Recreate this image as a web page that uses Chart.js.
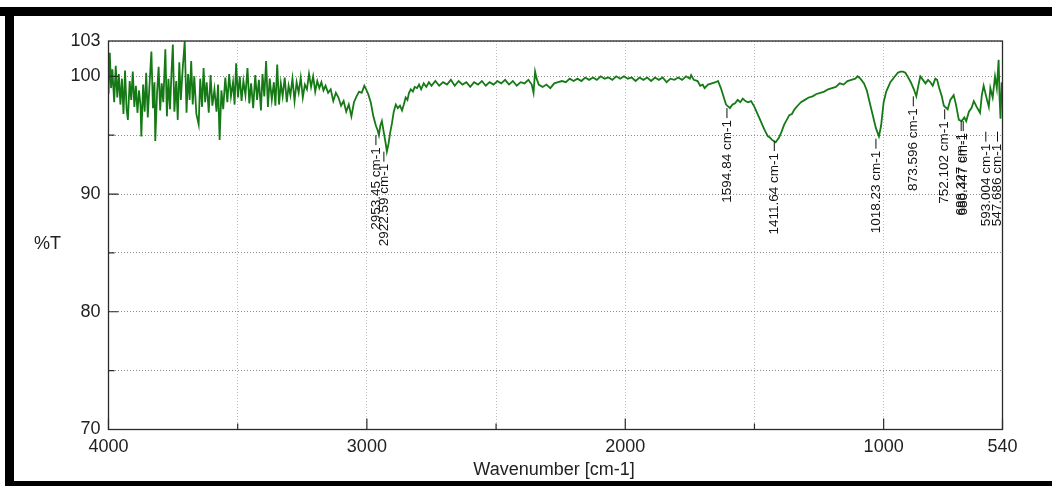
<!DOCTYPE html>
<html><head><meta charset="utf-8">
<script src="https://cdn.jsdelivr.net/npm/chart.js@4.4.0/dist/chart.umd.min.js"></script>
<style>html,body{margin:0;padding:0;background:#fff;}canvas{display:block;}</style>
</head><body>
<canvas id="c" width="1052" height="486"></canvas>
<script>
const wavenumbers = [
4000,3995,3990,3985,3978,3972,3966,3960,3954,3948,
3942,3936,3930,3925,3918,3912,3906,3900,3894,3888,
3882,3876,3873,3866,3860,3854,3848,3842,3834,3828,
3822,3819,3812,3806,3800,3794,3788,3780,3774,3768,
3762,3756,3751,3745,3738,3732,3726,3720,3713,3705,
3698,3692,3686,3680,3674,3668,3660,3651,3645,3638,
3632,3626,3620,3612,3605,3598,3590,3582,3576,3570,
3563,3556,3548,3540,3533,3526,3518,3512,3506,3499,
3492,3485,3478,3470,3462,3455,3448,3440,3432,3425,
3418,3410,3404,3397,3390,3383,3376,3368,3360,3354,
3347,3340,3333,3326,3318,3310,3303,3296,3288,3280,
3272,3264,3256,3248,3240,3232,3224,3216,3208,3200,
3192,3184,3176,3168,3160,3150,3140,3130,3120,3110,
3100,3090,3080,3070,3060,3050,3040,3030,3020,3010,
3005,2995,2985,2975,2965,2958,2953.45,2948,2942,2935,
2928,2922.59,2916,2910,2903,2896,2888,2880,2872,2864,
2857,2850,2843,2837,2830,2822,2815,2806,2798,2790,
2780,2770,2760,2750,2735,2720,2705,2690,2675,2660,
2645,2630,2615,2600,2585,2570,2555,2540,2525,2510,
2495,2480,2465,2450,2435,2420,2405,2390,2375,2362,
2355,2349,2343,2335,2320,2305,2290,2275,2260,2245,
2230,2215,2200,2185,2170,2155,2140,2125,2110,2095,
2080,2065,2050,2035,2020,2005,1990,1975,1960,1945,
1930,1915,1900,1885,1870,1855,1840,1825,1810,1795,
1780,1765,1750,1745,1735,1720,1710,1700,1693,1680,
1665,1650,1641,1630,1620,1610,1600,1594.84,1585,1575,
1565,1555,1545,1535,1525,1513,1500,1490,1480,1470,
1460,1448,1440,1432,1425,1418,1411.64,1405,1395,1385,
1375,1365,1355,1345,1333,1320,1305,1290,1275,1260,
1245,1230,1215,1200,1185,1170,1155,1140,1125,1110,
1101,1090,1076,1065,1051,1040,1030,1018.23,1010,1000,
990,974,960,945,935,925,916,905,895,883,
873.596,865,858,848,838,828,819,810,800,793,
785,775,767,752.102,742,729,720,709,698,688,
680.447,670,660,651,640,627,620,613,600,593.004,
587,578,569,562,555,551,547.686,543,540
];
const transmittance = [
98.5,102.0,99.0,100.6,97.8,100.9,98.2,100.2,97.6,99.8,
96.8,100.5,97.2,96.3,99.6,98.0,100.4,97.4,99.2,96.9,
98.8,97.5,94.9,99.3,97.0,100.3,96.5,99.0,102.1,97.3,
99.5,94.5,98.6,100.8,97.1,99.4,97.8,102.3,96.6,99.8,
97.2,100.4,102.7,97.0,99.6,96.3,101.2,98.0,100.6,103.0,
96.9,100.2,98.0,101.3,97.6,100.0,96.8,95.9,99.8,97.4,
100.7,97.8,99.5,96.9,100.1,97.5,98.9,97.0,99.3,94.6,
98.8,97.2,99.9,97.8,100.2,98.3,99.5,97.6,101.1,98.2,
100.0,97.9,99.6,98.4,100.7,97.7,99.4,97.3,100.1,98.0,
99.7,97.1,100.2,98.3,101.3,97.4,99.8,98.0,99.5,97.5,
101.0,97.6,99.4,98.3,99.9,97.8,99.2,98.4,99.8,97.9,
99.5,98.6,99.9,98.2,99.3,98.9,100.2,99.1,100.0,98.7,
99.6,99.0,99.5,98.8,99.2,98.6,98.9,97.9,98.6,98.2,
97.5,97.9,97.0,97.6,96.6,97.8,98.3,98.7,98.6,99.2,
99.0,98.5,97.8,96.6,95.8,95.4,95.0,95.8,96.2,95.3,
94.4,93.6,94.3,95.2,96.0,97.0,97.6,97.3,97.5,97.1,
97.6,98.2,98.0,98.6,98.9,98.7,99.1,99.0,99.3,98.9,
99.4,99.1,99.5,99.2,99.6,99.2,99.5,99.3,99.7,99.2,
99.6,99.3,99.5,99.1,99.5,99.3,99.6,99.2,99.5,99.3,
99.6,99.4,99.7,99.3,99.6,99.2,99.5,99.4,99.7,99.3,
98.6,100.4,99.8,99.3,99.1,99.3,99.0,99.4,99.5,99.6,
99.5,99.8,99.6,99.8,99.6,99.9,99.7,99.9,99.7,100.0,
99.8,99.9,99.7,100.0,99.8,100.0,99.8,99.9,99.6,99.9,
99.7,99.9,99.6,99.9,99.7,99.9,99.5,99.8,99.7,99.9,
99.7,100.0,99.8,100.1,99.7,99.6,99.2,99.3,99.0,99.3,
99.4,99.5,99.6,99.0,98.3,97.6,97.4,97.3,97.6,97.7,
98.0,97.8,98.1,97.9,97.8,97.9,97.4,96.9,96.4,95.9,
95.4,94.9,94.8,94.6,94.5,94.4,94.6,94.8,95.3,95.9,
96.3,96.7,96.8,97.2,97.5,97.8,98.0,98.2,98.3,98.5,
98.6,98.7,98.9,99.0,99.1,99.4,99.3,99.6,99.7,99.8,
100.0,99.8,99.4,98.8,97.5,96.5,95.6,94.9,95.8,97.8,
98.7,99.5,99.9,100.3,100.4,100.4,100.3,99.9,99.5,98.9,
98.3,99.3,100.0,99.7,99.4,99.7,99.5,99.2,99.8,99.7,
99.0,98.3,97.5,97.2,98.0,98.4,97.6,96.3,96.2,96.5,
96.2,97.0,97.3,97.9,97.4,96.9,98.4,99.2,98.0,97.4,
99.0,98.2,100.0,99.0,101.4,98.0,96.4,99.5,98.0
];
const xTickValues = [4000,3500,3000,2500,2000,1500,1000,540];
const xTickLabels = ['4000','','3000','','2000','','1000','540'];
const yTickValues = [70,75,80,85,90,95,100,103];
const yTickLabels = ['70','','80','','90','','100','103'];
const peakWavenumbers = [2953.45,2922.59,1594.84,1411.64,1018.23,873.596,752.102,688.327,680.447,593.004,547.686];
const peakLabelT = [95.0,93.6,97.3,94.5,94.7,98.3,97.2,96.2,96.2,95.3,95.3];
const peakLabels = ['2953.45 cm-1','2922.59 cm-1','1594.84 cm-1','1411.64 cm-1','1018.23 cm-1','873.596 cm-1','752.102 cm-1','688.327 cm-1','680.447 cm-1','593.004 cm-1','547.686 cm-1'];

const FONT = '"Liberation Sans", Arial, sans-serif';
const points = wavenumbers.map((w, i) => ({x: w, y: transmittance[i]}));

const decor = {
  id: 'decor',
  beforeDraw(chart) {
    const ctx = chart.ctx;
    ctx.save();
    ctx.fillStyle = '#fff';
    ctx.fillRect(0, 0, chart.width, chart.height);
    ctx.fillStyle = '#000';
    ctx.fillRect(0, 7, chart.width, 9);
    ctx.fillRect(5, 7, 9, chart.height - 7);
    ctx.fillRect(5, 481, chart.width, 5);
    ctx.restore();
  },
  afterDatasetsDraw(chart) {
    const ctx = chart.ctx;
    const a = chart.chartArea;
    const xs = chart.scales.x, ys = chart.scales.y;
    ctx.save();
    ctx.strokeStyle = '#2a2a2a';
    ctx.lineWidth = 1.3;
    ctx.strokeRect(a.left, a.top, a.right - a.left, a.bottom - a.top);
    ctx.lineWidth = 1.2;
    ctx.beginPath();
    xTickValues.forEach((v, i) => {
      const px = xs.getPixelForValue(v);
      const len = xTickLabels[i] ? 11 : 6;
      ctx.moveTo(px, a.bottom); ctx.lineTo(px, a.bottom - len);
    });
    yTickValues.forEach((v, i) => {
      if (v === 103) return;
      const py = ys.getPixelForValue(v);
      const len = yTickLabels[i] ? 10 : 6;
      ctx.moveTo(a.left, py); ctx.lineTo(a.left + len, py);
    });
    ctx.stroke();
    // peak labels
    ctx.fillStyle = '#111';
    ctx.strokeStyle = '#111';
    ctx.lineWidth = 1;
    ctx.font = '13.5px ' + FONT;
    ctx.textAlign = 'right';
    ctx.textBaseline = 'middle';
    peakWavenumbers.forEach((w, i) => {
      const px = xs.getPixelForValue(w) - 3;
      const py = ys.getPixelForValue(peakLabelT[i]);
      ctx.beginPath();
      ctx.moveTo(px, py); ctx.lineTo(px, py + 10);
      ctx.stroke();
      ctx.save();
      ctx.translate(px, py + 12);
      ctx.rotate(-Math.PI / 2);
      ctx.fillText(peakLabels[i], 0, 0);
      ctx.restore();
    });
    // axis titles
    ctx.font = '18px ' + FONT;
    ctx.fillStyle = '#222';
    ctx.textAlign = 'left';
    ctx.textBaseline = 'middle';
    ctx.fillText('%T', 34, 244);
    ctx.textAlign = 'center';
    ctx.fillText('Wavenumber [cm-1]', 554, 470);
    ctx.restore();
  }
};

new Chart(document.getElementById('c'), {
  type: 'line',
  data: { datasets: [{
    data: points,
    borderColor: '#157a15',
    borderWidth: 1.8,
    pointRadius: 0,
    tension: 0,
    fill: false
  }]},
  options: {
    responsive: false,
    animation: false,
    devicePixelRatio: 1,
    layout: { padding: { left: 0, right: 49.5, top: 41, bottom: 0 } },
    plugins: { legend: { display: false }, tooltip: { enabled: false } },
    scales: {
      x: {
        type: 'linear', min: 540, max: 4000, reverse: true,
        afterBuildTicks: s => { s.ticks = xTickValues.map(v => ({value: v})); },
        afterFit: s => { s.height = 56.5; },
        ticks: {
          autoSkip: false, maxRotation: 0, padding: 7,
          color: '#222', font: { family: FONT, size: 18 },
          callback: v => xTickLabels[xTickValues.indexOf(v)]
        },
        grid: { color: '#bdbdbd', lineWidth: 1, drawTicks: false },
        border: { display: false, dash: [1, 2] }
      },
      y: {
        type: 'linear', min: 70, max: 103,
        afterBuildTicks: s => { s.ticks = yTickValues.map(v => ({value: v})); },
        afterFit: s => { s.width = 108.5; },
        ticks: {
          autoSkip: false, padding: 8,
          color: '#222', font: { family: FONT, size: 18 },
          callback: v => yTickLabels[yTickValues.indexOf(v)]
        },
        grid: { color: '#8c8c8c', lineWidth: 1, drawTicks: false },
        border: { display: false, dash: [1, 2] }
      }
    }
  },
  plugins: [decor]
});
</script>
</body></html>
